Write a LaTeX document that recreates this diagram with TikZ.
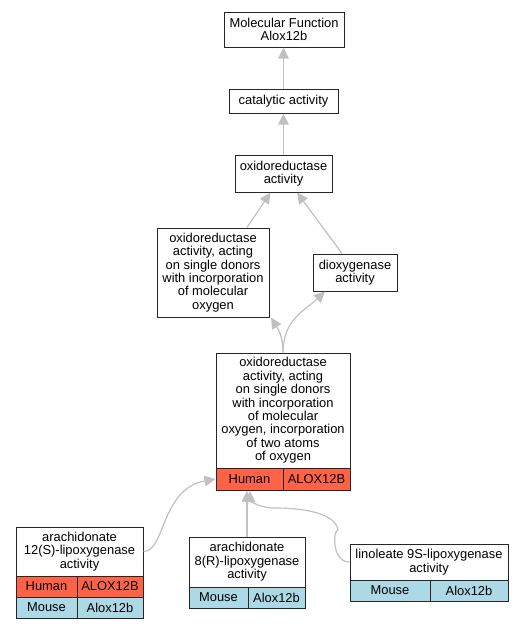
\documentclass[tikz,border=0pt]{standalone}
\usepackage{fontspec}
\setmainfont{Liberation Sans}
\usetikzlibrary{arrows.meta}
\definecolor{humanred}{HTML}{FF6347}
\definecolor{mouseblue}{HTML}{ADD8E6}
\definecolor{edgegray}{HTML}{C0C0C0}
\tikzset{
  box/.style={draw=black!85, line width=1pt, fill=white, inner sep=0pt, align=center,
    font=\fontsize{12.9}{13.4}\selectfont},
  hcell/.style={box, fill=humanred},
  mcell/.style={box, fill=mouseblue},
  edge/.style={draw=edgegray, line width=1.2pt, -{Triangle[length=11pt,width=10.5pt]}},
}
\begin{document}
\begin{tikzpicture}[x=1pt,y=-1pt]
\useasboundingbox (0,0) rectangle (525,629);
% nodes
\node[box, minimum width=120, minimum height=35] (mf) at (284,29.5) {Molecular Function\\Alox12b};
\node[box, minimum width=109, minimum height=24] (cat) at (283.5,101) {catalytic activity};
\node[box, minimum width=97, minimum height=37] (ox) at (283.5,173.5) {oxidoreductase\\activity};
\node[box, minimum width=112, minimum height=89] (oxm) at (213,272.5) {oxidoreductase\\activity, acting\\on single donors\\with incorporation\\of molecular\\oxygen};
\node[box, minimum width=84, minimum height=37] (diox) at (355,272.5) {dioxygenase\\activity};
\node[box, minimum width=134, minimum height=115] (big) at (283,410.5) {oxidoreductase\\activity, acting\\on single donors\\with incorporation\\of molecular\\oxygen, incorporation\\of two atoms\\of oxygen};
\node[hcell, minimum width=67, minimum height=22] (bigh) at (249.5,479) {Human};
\node[hcell, minimum width=67, minimum height=22] (bigg) at (316.5,479) {ALOX12B};
\node[box, minimum width=127, minimum height=49] (a12) at (79.5,551.5) {arachidonate\\12(S)-lipoxygenase\\activity};
\node[hcell, minimum width=61, minimum height=21] (a12h) at (46.5,586.5) {Human};
\node[hcell, minimum width=66, minimum height=21] (a12hg) at (110,586.5) {ALOX12B};
\node[mcell, minimum width=61, minimum height=21] (a12m) at (46.5,607.5) {Mouse};
\node[mcell, minimum width=66, minimum height=21] (a12mg) at (110,607.5) {Alox12b};
\node[box, minimum width=116, minimum height=50] (a8) at (247,562) {arachidonate\\8(R)-lipoxygenase\\activity};
\node[mcell, minimum width=59, minimum height=21] (a8m) at (218.5,597.5) {Mouse};
\node[mcell, minimum width=57, minimum height=21] (a8mg) at (276.5,597.5) {Alox12b};
\node[box, minimum width=158, minimum height=36] (lin) at (429,562) {linoleate 9S-lipoxygenase\\activity};
\node[mcell, minimum width=80, minimum height=21] (linm) at (390,590.5) {Mouse};
\node[mcell, minimum width=78, minimum height=21] (linmg) at (469,590.5) {Alox12b};
% edges
\draw[edge] (cat.north) -- (cat.north |- mf.south);
\draw[edge] (ox.north) -- (cat.south);
\draw[edge] ([xshift=34]oxm.north) -- ([xshift=-13]ox.south);
\draw[edge] ([xshift=-13]diox.north) -- ([xshift=13.5]ox.south);
\draw[edge] (big.north) .. controls +(0,-15) and +(8,13) .. ([xshift=58]oxm.south);
\draw[edge] (big.north) .. controls +(0,-33) and +(-20,19) .. ([xshift=-30]diox.south);
\draw[edge] (a12.east) .. controls +(22,0) and +(-55,10) .. (bigh.west);
\draw[edge] (a8.north) -- (a8.north |- bigh.south);
\coordinate (lmid) at (275,508);
\draw[edge] (lin.west) .. controls +(-18,0) and +(-5,0) .. (338,530) .. controls (335,512) and (300,508) .. (lmid) .. controls (258,508) and (250,500) .. (250,491);
\end{tikzpicture}
\end{document}
